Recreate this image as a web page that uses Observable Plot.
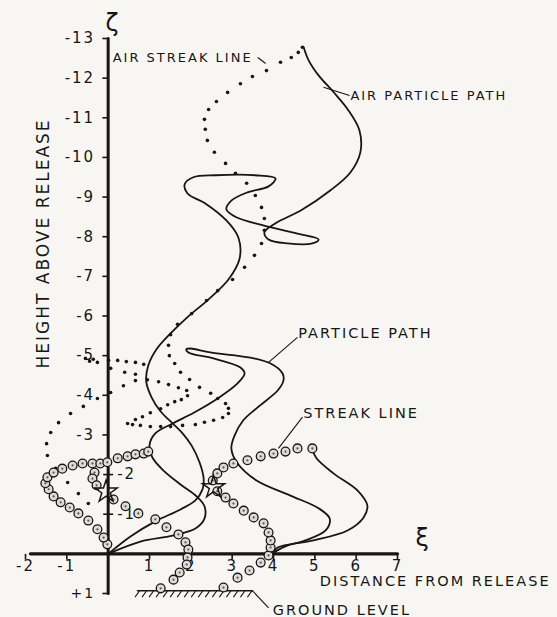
<!DOCTYPE html>
<html><head><meta charset="utf-8">
<script src="https://cdn.jsdelivr.net/npm/d3@7"></script>
<script src="https://cdn.jsdelivr.net/npm/@observablehq/plot@0.6"></script>
<style>
html,body{margin:0;padding:0;background:#f7f6f2;}
</style></head><body>
<script>
// ---- data (x = distance from release, y = height; negative is up) ----
const airParticlePath = [
[0,0],[0.54,-0.44],[1.14,-0.82],[1.75,-1.12],[2.11,-1.35],[2.28,-1.62],[2.31,-1.90],[2.21,-2.31],[2.02,-2.73],[1.80,-3.04],[1.56,-3.29],[1.27,-3.59],[1.05,-3.95],[0.92,-4.35],[0.97,-4.75],[1.17,-5.16],[1.51,-5.56],[1.94,-5.99],[2.43,-6.42],[2.91,-6.92],[3.18,-7.45],[3.15,-7.98],[2.86,-8.41],[2.35,-8.84],[1.92,-9.09],[1.85,-9.32],[2.06,-9.50],[2.60,-9.55],[3.56,-9.55],[4.05,-9.47],[3.88,-9.27],[3.37,-9.12],[2.98,-8.91],[2.86,-8.69],[3.10,-8.49],[3.73,-8.29],[4.58,-8.08],[5.09,-7.93],[4.94,-7.83],[4.34,-7.83],[3.88,-7.93],[3.78,-8.11],[4.05,-8.34],[4.66,-8.66],[5.38,-9.17],[5.86,-9.62],[6.10,-10.12],[6.08,-10.68],[5.81,-11.19],[5.45,-11.65],[5.09,-12.07],[4.85,-12.45],[4.73,-12.78]
];
const particlePath = [
[0,0],[0.78,-0.31],[1.56,-0.46],[2.11,-0.64],[2.33,-0.89],[2.33,-1.20],[2.14,-1.45],[1.75,-1.75],[1.34,-2.10],[1.07,-2.43],[1.00,-2.74],[1.14,-3.04],[1.56,-3.29],[2.07,-3.56],[2.65,-3.92],[3.13,-4.30],[3.30,-4.55],[3.20,-4.70],[2.55,-4.93],[1.94,-5.08],[1.89,-5.16],[1.99,-5.18],[2.47,-5.08],[3.44,-4.95],[3.93,-4.80],[4.22,-4.55],[4.24,-4.37],[4.10,-4.12],[3.61,-3.69],[3.27,-3.37],[3.06,-2.99],[2.98,-2.66],[3.11,-2.31],[3.59,-1.85],[4.41,-1.47],[5.09,-1.15],[5.36,-0.89],[5.26,-0.59],[4.77,-0.34],[4.29,-0.19],[4.0,-0.03]
];
const particlePath2 = [
[4.0,-0.03],[4.10,-0.16],[4.97,-0.34],[5.79,-0.59],[6.18,-0.92],[6.27,-1.22],[6.03,-1.60],[5.45,-2.03],[5.04,-2.41],[4.94,-2.63]
];
const airStreakUpper = [
[4.70,-12.78],[4.60,-12.65],[4.43,-12.52],[4.17,-12.40],[3.83,-12.19],[3.49,-12.04],[3.20,-11.86],[2.89,-11.64],[2.62,-11.41],[2.43,-11.21],[2.33,-10.96],[2.35,-10.71],[2.40,-10.43],[2.57,-10.13],[2.84,-9.85],[3.08,-9.60],[3.35,-9.35],[3.56,-9.04],[3.71,-8.74],[3.78,-8.46],[3.78,-8.16],[3.71,-7.83],[3.54,-7.53],[3.30,-7.23],[3.01,-6.92],[2.65,-6.64],[2.38,-6.39],[2.02,-6.06],[1.68,-5.79],[1.51,-5.53],[1.46,-5.26],[1.48,-5.00]
];
const airStreakMiddle = [
[1.61,-4.80],[1.75,-4.58],[1.97,-4.40],[2.21,-4.20],[2.48,-4.05],[2.65,-3.92],[2.84,-3.79],[2.91,-3.67],[2.91,-3.54],[2.77,-3.44],[2.55,-3.37],[2.33,-3.32],[2.11,-3.26],[1.80,-3.24],[1.51,-3.21],[1.27,-3.21],[1.02,-3.21],[0.78,-3.24],[0.59,-3.26],[0.47,-3.29]
];
const airStreakLower = [
[0.66,-3.39],[0.83,-3.46],[1.02,-3.56],[1.27,-3.66],[1.44,-3.76],[1.61,-3.84],[1.77,-3.89],[1.92,-3.99],[1.90,-4.12],[1.70,-4.19],[1.46,-4.27],[1.22,-4.34],[0.95,-4.39],[0.66,-4.37],[0.37,-4.24],[0.06,-4.07],[-0.26,-3.92],[-0.60,-3.72],[-0.91,-3.54],[-1.20,-3.31],[-1.39,-3.06],[-1.49,-2.78],[-1.47,-2.48],[-1.27,-2.16],[-0.98,-1.80],[-0.72,-1.52],[-0.48,-1.27]
];
const airStreakRow = [
[-0.55,-4.93],[-0.45,-4.86],[-0.36,-4.91],[-0.26,-4.83],[0.01,-4.88],[0.23,-4.88],[0.44,-4.85],[0.66,-4.83],[0.86,-4.78],[0.06,-4.68],[0.40,-4.58],[0.66,-4.53]
];
const streakCircles1 = [
[-0.02,-0.24],[-0.11,-0.41],[-0.26,-0.62],[-0.48,-0.84],[-0.72,-1.02],[-0.93,-1.17],[-1.15,-1.30],[-1.32,-1.45],[-1.44,-1.63],[-1.52,-1.78],[-1.47,-1.93],[-1.32,-2.05],[-1.11,-2.15],[-0.86,-2.23],[-0.62,-2.28],[-0.38,-2.28],[-0.19,-2.28],[-0.02,-2.31],[0.23,-2.41],[0.47,-2.46],[0.66,-2.51],[0.86,-2.53],[0.97,-2.58]
];
const streakCirclesInner = [
[-0.33,-2.05],[-0.38,-1.90],[-0.28,-1.73],[0.13,-1.37],[0.42,-1.20],[0.73,-1.02],[1.14,-0.87],[1.41,-0.67],[1.70,-0.49],[1.87,-0.29],[1.94,-0.11],[1.92,0.09],[1.90,0.27],[1.73,0.47],[1.58,0.65],[1.27,0.87]
];
const streakCircles2 = [
[2.79,0.85],[3.13,0.60],[3.42,0.42],[3.69,0.22],[3.88,0.04],[3.93,-0.16],[3.93,-0.34],[3.88,-0.54],[3.76,-0.77],[3.52,-0.92],[3.28,-1.09],[3.03,-1.27],[2.84,-1.42],[2.64,-1.58],[2.53,-1.85],[2.64,-2.03],[2.79,-2.18],[3.03,-2.28],[3.37,-2.36],[3.69,-2.46],[4.00,-2.53],[4.29,-2.58],[4.58,-2.66],[4.94,-2.66]
];
const stars = [[-0.05,-1.57],[2.55,-1.68]];
const xTicks = [-2,-1,1,2,3,4,5,6,7];
const xTickLabels = ["-2","-1","1","2","3","4","5","6","7"];
const yTicksLeft = [-13,-12,-11,-10,-9,-8,-7,-6,-5,-4,-3];
const yTickLabelsLeft = ["-13","-12","-11","-10","-9","-8","-7","-6","-5","-4","-3"];
const yTicksRight = [-2,-1];
const yTickLabelsRight = ["-2","-1"];
const yTicksBottom = [1];
const yTickLabelsBottom = ["+1"];
const groundLine = [[0.71,0.93],[3.49,0.93]];
const groundHatchX = [0.76,0.93,1.10,1.27,1.44,1.61,1.78,1.95,2.12,2.29,2.46,2.63,2.80,2.97,3.14,3.31,3.48];
const xAxisLine = [[-1.88,0],[7,0]];
const yAxisLine = [[0,1],[0,-13]];
const annotations = [
  {text:"AIR STREAK LINE", x:0.11, y:-12.50},
  {text:"AIR PARTICLE PATH", x:5.86, y:-11.56},
  {text:"PARTICLE PATH", x:4.60, y:-5.56},
  {text:"STREAK LINE", x:4.72, y:-3.54},
  {text:"DISTANCE FROM RELEASE", x:5.12, y:0.70},
  {text:"GROUND LEVEL", x:3.98, y:1.43}
];
const leaders = [
  [3.62,-12.52,3.81,-12.37],
  [5.21,-11.77,5.84,-11.56],
  [4.58,-5.46,3.88,-4.83],
  [4.70,-3.45,4.12,-2.66],
  [3.49,0.93,3.88,1.36]
];
const yTitle = [{text:"HEIGHT ABOVE RELEASE", x:-1.57, y:-7.83}];
const axisSymbols = [{text:"ζ", x:0.12, y:-13.38},{text:"ξ", x:7.62, y:-0.39}];

// ---- drawing ----
const ink = "#161616";
const bg = "#f7f6f2";
const xy = {x: d => d[0], y: d => d[1]};
const solid = {...xy, curve: "catmull-rom", stroke: ink, strokeWidth: 1.8, strokeLinejoin: "round"};
const dotStyle = {...xy, r: 1.8, fill: ink};

const chart = Plot.plot({
  width: 557, height: 617,
  marginTop: 0, marginRight: 0, marginBottom: 0, marginLeft: 0,
  style: {background: bg, fontFamily: "DejaVu Sans", letterSpacing: "2px", color: ink},
  x: {domain: [-2, 7], range: [25, 397], axis: null},
  y: {domain: [1, -13], range: [593, 38], axis: null},
  marks: [
    // axes
    Plot.line(xAxisLine, {...xy, stroke: ink, strokeWidth: 3.2}),
    Plot.line(yAxisLine, {...xy, stroke: ink, strokeWidth: 3}),
    Plot.link(xTicks, {x1: d => d, x2: d => d, y1: 0, y2: 0.14, stroke: ink, strokeWidth: 1.6}),
    Plot.link(yTicksLeft.concat(yTicksBottom), {x1: 0, x2: -0.14, y1: d => d, y2: d => d, stroke: ink, strokeWidth: 1.6}),
    Plot.link(yTicksRight, {x1: -0.12, x2: 0.12, y1: d => d, y2: d => d, stroke: ink, strokeWidth: 1.6}),
    Plot.text(xTicks, {x: d => d, y: 0, text: (d, i) => xTickLabels[i], dy: 12, fontSize: 15, fill: ink}),
    Plot.text(yTicksLeft, {x: 0, y: d => d, text: (d, i) => yTickLabelsLeft[i], dx: -13, textAnchor: "end", fontSize: 15, fill: ink}),
    Plot.text(yTicksRight, {x: 0, y: d => d, text: (d, i) => yTickLabelsRight[i], dx: 9, textAnchor: "start", fontSize: 15, fill: ink}),
    Plot.text(yTicksBottom, {x: 0, y: d => d, text: (d, i) => yTickLabelsBottom[i], dx: -13, textAnchor: "end", fontSize: 14, fill: ink}),
    // ground
    Plot.line(groundLine, {...xy, stroke: ink, strokeWidth: 1.6}),
    Plot.link(groundHatchX, {x1: d => d, y1: 0.93, x2: d => d - 0.11, y2: 1.09, stroke: ink, strokeWidth: 1.1}),
    // curves
    Plot.line(airParticlePath, solid),
    Plot.line(particlePath, solid),
    Plot.line(particlePath2, solid),
    // air streak line dots
    Plot.dot(airStreakUpper, dotStyle),
    Plot.dot(airStreakMiddle, dotStyle),
    Plot.dot(airStreakLower, dotStyle),
    Plot.dot(airStreakRow, dotStyle),
    // streak line circles
    Plot.dot(streakCircles1.concat(streakCirclesInner, streakCircles2), {...xy, r: 4.4, stroke: ink, strokeWidth: 1.3, fill: "#dddcd7"}),
    Plot.dot(streakCircles1.concat(streakCirclesInner, streakCircles2), {...xy, r: 1.1, fill: "#555"}),
    // stars
    Plot.dot(stars, {...xy, symbol: "star", r: 7, stroke: ink, strokeWidth: 1.5, fill: "none"}),
    // leaders
    Plot.link(leaders, {x1: d => d[0], y1: d => d[1], x2: d => d[2], y2: d => d[3], stroke: ink, strokeWidth: 1.1}),
    // labels
    Plot.text(annotations.slice(0, 2), {x: "x", y: "y", text: "text", textAnchor: "start", fontSize: 13, fill: ink}),
    Plot.text(annotations.slice(2), {x: "x", y: "y", text: "text", textAnchor: "start", fontSize: 14.5, fill: ink}),
    Plot.text(yTitle, {x: "x", y: "y", text: "text", rotate: -90, fontSize: 17, fill: ink}),
    Plot.text(axisSymbols, {x: "x", y: "y", text: "text", fontSize: 24, fill: ink})
  ]
});
document.body.appendChild(chart);
</script>
</body></html>
